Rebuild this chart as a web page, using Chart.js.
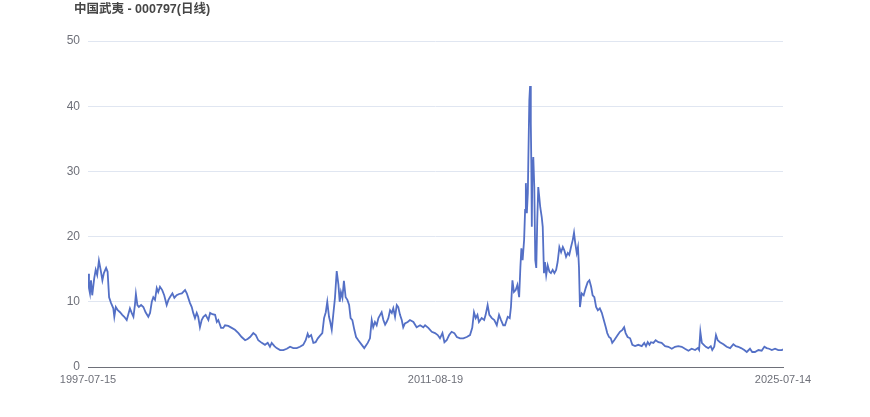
<!DOCTYPE html>
<html>
<head>
<meta charset="utf-8">
<title>中国武夷 - 000797(日线)</title>
<script src="https://cdn.jsdelivr.net/npm/chart.js@4.4.1/dist/chart.umd.min.js"></script>
<style>
    html, body { margin: 0; padding: 0; background: #ffffff; }
    #grafico { display: block; }
</style>
</head>
<body>
<canvas id="grafico" width="870" height="417"></canvas>
<script>
// Título del gráfico
const titulo = '中国武夷 - 000797(日线)';

// Fechas de cotización en años decimales
const fechas = [
    1997.54, 1997.58, 1997.62, 1997.66, 1997.71, 1997.79, 1997.85, 1997.91, 1997.98, 1998.05,
    1998.12, 1998.18, 1998.27, 1998.33, 1998.39, 1998.47, 1998.56, 1998.60, 1998.66, 1998.74,
    1998.83, 1998.92, 1999.00, 1999.10, 1999.16, 1999.23, 1999.30, 1999.37, 1999.43, 1999.47,
    1999.53, 1999.59, 1999.68, 1999.77, 1999.86, 1999.97, 2000.04, 2000.11, 2000.17, 2000.24,
    2000.31, 2000.37, 2000.44, 2000.53, 2000.61, 2000.71, 2000.78, 2000.84, 2000.94, 2001.02,
    2001.11, 2001.21, 2001.32, 2001.45, 2001.52, 2001.58, 2001.65, 2001.72, 2001.78, 2001.85,
    2001.92, 2001.98, 2002.05, 2002.12, 2002.19, 2002.28, 2002.39, 2002.46, 2002.55, 2002.66,
    2002.73, 2002.79, 2002.90, 2002.99,
    2003.06, 2003.19, 2003.33, 2003.46, 2003.60, 2003.73, 2003.87, 2003.97, 2004.07, 2004.20,
    2004.30, 2004.40, 2004.54, 2004.67, 2004.78, 2004.87, 2004.94, 2005.05, 2005.14, 2005.28,
    2005.41, 2005.55, 2005.68, 2005.81, 2005.95, 2006.08, 2006.21, 2006.31, 2006.39, 2006.44,
    2006.53, 2006.62, 2006.71, 2006.80, 2006.89, 2006.98, 2007.05, 2007.12, 2007.18, 2007.25,
    2007.30, 2007.36, 2007.42, 2007.49, 2007.56, 2007.63, 2007.68, 2007.73, 2007.79, 2007.85,
    2007.92, 2007.99, 2008.06, 2008.12, 2008.19, 2008.27, 2008.34, 2008.43, 2008.57, 2008.67,
    2008.81, 2008.90, 2008.97, 2009.03, 2009.10, 2009.17, 2009.24, 2009.31, 2009.37, 2009.44,
    2009.51, 2009.57, 2009.64, 2009.71, 2009.78, 2009.84, 2009.91, 2009.98, 2010.04, 2010.11,
    2010.18, 2010.24, 2010.31, 2010.42, 2010.51, 2010.65, 2010.78, 2010.92, 2011.05, 2011.12,
    2011.25, 2011.39, 2011.52, 2011.63, 2011.72, 2011.82, 2011.90, 2011.99, 2012.09, 2012.19,
    2012.30, 2012.40, 2012.53, 2012.66, 2012.80, 2012.93, 2013.02, 2013.09, 2013.16, 2013.23,
    2013.29, 2013.40, 2013.50, 2013.56, 2013.64, 2013.71, 2013.81, 2013.91, 2014.01, 2014.10,
    2014.18, 2014.27,
    2014.34, 2014.45, 2014.53, 2014.58, 2014.64, 2014.70, 2014.77, 2014.84, 2014.91, 2014.96,
    2015.00, 2015.05, 2015.11, 2015.15, 2015.18, 2015.22, 2015.26, 2015.28, 2015.32, 2015.35,
    2015.38, 2015.40, 2015.42, 2015.44, 2015.48, 2015.52, 2015.56, 2015.60, 2015.64, 2015.68,
    2015.72, 2015.76, 2015.82, 2015.86, 2015.91, 2015.95, 2016.00, 2016.06, 2016.13, 2016.19,
    2016.26, 2016.33, 2016.40, 2016.46, 2016.53, 2016.60, 2016.67, 2016.73, 2016.80, 2016.87,
    2016.93, 2017.00, 2017.07, 2017.12, 2017.17, 2017.23, 2017.28, 2017.32, 2017.36, 2017.43,
    2017.51, 2017.59, 2017.67, 2017.74, 2017.81, 2017.87, 2017.94, 2018.01, 2018.08, 2018.16,
    2018.24, 2018.32, 2018.40, 2018.46, 2018.53, 2018.60, 2018.66, 2018.74,
    2018.88, 2018.97, 2019.07, 2019.14, 2019.20, 2019.28, 2019.38, 2019.47, 2019.58, 2019.71,
    2019.85, 2019.95, 2020.02, 2020.09, 2020.16, 2020.22, 2020.32, 2020.41, 2020.52, 2020.65,
    2020.79, 2020.92, 2021.06, 2021.19, 2021.32, 2021.46, 2021.59, 2021.73, 2021.86, 2022.00,
    2022.11, 2022.16, 2022.21, 2022.27, 2022.35, 2022.43, 2022.53, 2022.63, 2022.69, 2022.77,
    2022.84, 2022.91, 2023.00, 2023.14, 2023.27, 2023.41, 2023.54, 2023.64, 2023.74, 2023.85,
    2023.98, 2024.08, 2024.21, 2024.30, 2024.41, 2024.55, 2024.68, 2024.79, 2024.88, 2024.98,
    2025.09, 2025.22, 2025.35, 2025.49, 2025.54
];

// Precio de cierre para cada fecha
const cierres = [
    14.3, 12.1, 11.3, 13.3, 11.0, 13.6, 14.9, 14.1, 16.3, 14.9,
    13.3, 14.4, 15.2, 14.6, 10.7, 9.8, 9.0, 7.7, 9.2, 8.7,
    8.4, 8.0, 7.7, 7.2, 8.0, 9.0, 8.3, 7.7, 9.5, 11.2,
    9.5, 9.2, 9.5, 9.2, 8.4, 7.7, 8.3, 10.0, 10.7, 10.3,
    12.1, 11.5, 12.3, 11.8, 11.0, 9.5, 10.3, 10.7, 11.3, 10.6,
    11.0, 11.2, 11.3, 11.8, 11.3, 10.6, 9.8, 9.2, 8.3, 7.5,
    8.3, 7.7, 6.1, 7.2, 7.7, 8.0, 7.2, 8.3, 8.1, 8.0,
    6.9, 7.2, 6.0, 6.0,
    6.4, 6.3, 6.0, 5.7, 5.2, 4.6, 4.1, 4.3, 4.6, 5.2,
    4.9, 4.1, 3.7, 3.4, 3.7, 3.1, 3.7, 3.2, 2.9, 2.6,
    2.6, 2.8, 3.1, 2.9, 2.9, 3.1, 3.4, 4.1, 5.1, 4.6,
    4.9, 3.7, 3.8, 4.4, 4.8, 5.2, 7.5, 8.4, 10.0, 7.7,
    6.9, 5.7, 8.0, 10.6, 14.7, 12.6, 10.0, 11.5, 10.6, 13.2,
    10.7, 10.3, 9.5, 7.5, 7.2, 5.7, 4.6, 4.1, 3.4, 2.9,
    3.7, 4.4, 7.2, 6.1, 6.9, 6.4, 7.5, 8.0, 8.4, 7.2,
    6.5, 6.9, 7.5, 8.7, 8.3, 9.0, 7.7, 9.5, 9.2, 8.0,
    7.2, 6.1, 6.7, 6.9, 7.2, 6.9, 6.1, 6.4, 6.1, 6.4,
    6.0, 5.4, 5.2, 4.9, 4.4, 5.2, 3.8, 4.1, 4.9, 5.4,
    5.2, 4.6, 4.4, 4.4, 4.6, 4.9, 6.0, 8.4, 7.5, 8.0,
    6.9, 7.5, 7.2, 8.0, 9.5, 8.0, 7.5, 7.2, 6.4, 8.0,
    7.2, 6.4,
    6.4, 7.7, 7.5, 9.2, 13.3, 11.5, 11.8, 12.6, 10.7, 15.3,
    18.2, 16.4, 19.5, 24.1, 28.2, 23.6, 26.7, 31.7, 40.9, 43.1,
    37.4, 31.3, 21.5, 29.8, 32.2, 27.6, 16.4, 15.2, 22.5, 27.6,
    26.1, 24.5, 23.0, 21.5, 14.4, 16.1, 14.1, 15.6, 14.6, 14.4,
    14.9, 14.4, 14.9, 16.1, 18.4, 17.6, 18.4, 17.9, 16.9, 17.5,
    17.2, 18.4, 19.5, 20.6, 19.0, 17.5, 18.4, 15.3, 9.2, 11.3,
    11.0, 12.1, 13.0, 13.3, 12.3, 11.0, 10.7, 9.2, 8.7, 9.0,
    8.3, 7.2, 6.1, 5.2, 4.6, 4.4, 3.7, 4.1,
    4.9, 5.4, 5.7, 6.1, 5.2, 4.6, 4.4, 3.4, 3.2, 3.4,
    3.2, 3.7, 3.2, 3.8, 3.4, 3.8, 3.7, 4.1, 3.8, 3.7,
    3.2, 3.1, 2.8, 3.1, 3.2, 3.1, 2.8, 2.5, 2.8, 2.6,
    2.9, 2.6, 5.4, 3.7, 3.4, 3.1, 2.9, 3.2, 2.6, 3.1,
    4.9, 4.1, 3.8, 3.5, 3.1, 2.9, 3.5, 3.2, 3.1, 2.9,
    2.6, 2.3, 2.8, 2.3, 2.3, 2.6, 2.5, 3.1, 2.9, 2.8,
    2.6, 2.8, 2.6, 2.6, 2.7
];

// Etiquetas del eje X: solo primera, central y última fecha
const etiquetasX = ['1997-07-15', '2011-08-19', '2025-07-14'];
const posicionesX = [1997.54, 2011.54, 2025.54];

// Valores del eje Y
const ticksY = [0, 10, 20, 30, 40, 50];

// Plugin sencillo para dibujar el título arriba a la izquierda
const pluginTitulo = {
    id: 'tituloIzquierda',
    afterDraw(chart) {
        const ctx = chart.ctx;
        ctx.save();
        ctx.font = 'bold 12.5px "Liberation Sans", "Noto Sans CJK SC", sans-serif';
        ctx.fillStyle = '#464646';
        ctx.textBaseline = 'top';
        ctx.textAlign = 'left';
        ctx.fillText(titulo, 74, 3);
        ctx.restore();
    }
};

const ctx = document.getElementById('grafico').getContext('2d');
const chart = new Chart(ctx, {
    type: 'line',
    data: {
        datasets: [{
            label: titulo,
            data: fechas.map((f, i) => ({ x: f, y: cierres[i] })), // Puntos fecha/cierre
            borderColor: '#5470c6',
            borderWidth: 1.8,
            pointRadius: 0,
            tension: 0,
            fill: false
        }]
    },
    options: {
        responsive: false,
        animation: false,
        layout: {
            padding: { left: 0, right: 87, top: 41, bottom: 0 }
        },
        plugins: {
            legend: { display: false },
            tooltip: { enabled: false }
        },
        scales: {
            x: {
                type: 'linear',
                min: posicionesX[0],
                max: posicionesX[posicionesX.length - 1],
                afterBuildTicks: (scale) => {
                    scale.ticks = posicionesX.map(v => ({ value: v }));
                },
                afterFit: (scale) => {
                    scale.height = 50;
                    scale.paddingLeft = 0;  // Las etiquetas pueden salirse del área
                    scale.paddingRight = 0;
                },
                grid: { display: false, drawTicks: false },
                border: { display: true, color: '#6e7079', width: 1 },
                ticks: {
                    autoSkip: false,
                    maxRotation: 0,
                    padding: 6,
                    color: '#6e7079',
                    font: { family: '"Liberation Sans", sans-serif', size: 11 },
                    callback: function(valor) {
                        const idx = posicionesX.indexOf(valor);
                        return idx >= 0 ? etiquetasX[idx] : '';
                    }
                }
            },
            y: {
                min: ticksY[0],
                max: ticksY[ticksY.length - 1],
                afterBuildTicks: (scale) => {
                    scale.ticks = ticksY.map(v => ({ value: v }));
                },
                afterFit: (scale) => {
                    scale.width = 88;
                },
                grid: { color: '#e0e6f1', drawTicks: false },
                border: { display: false },
                ticks: {
                    padding: 8,
                    color: '#6e7079',
                    font: { family: '"Liberation Sans", sans-serif', size: 12 }
                }
            }
        }
    },
    plugins: [pluginTitulo]
});
</script>
</body>
</html>
